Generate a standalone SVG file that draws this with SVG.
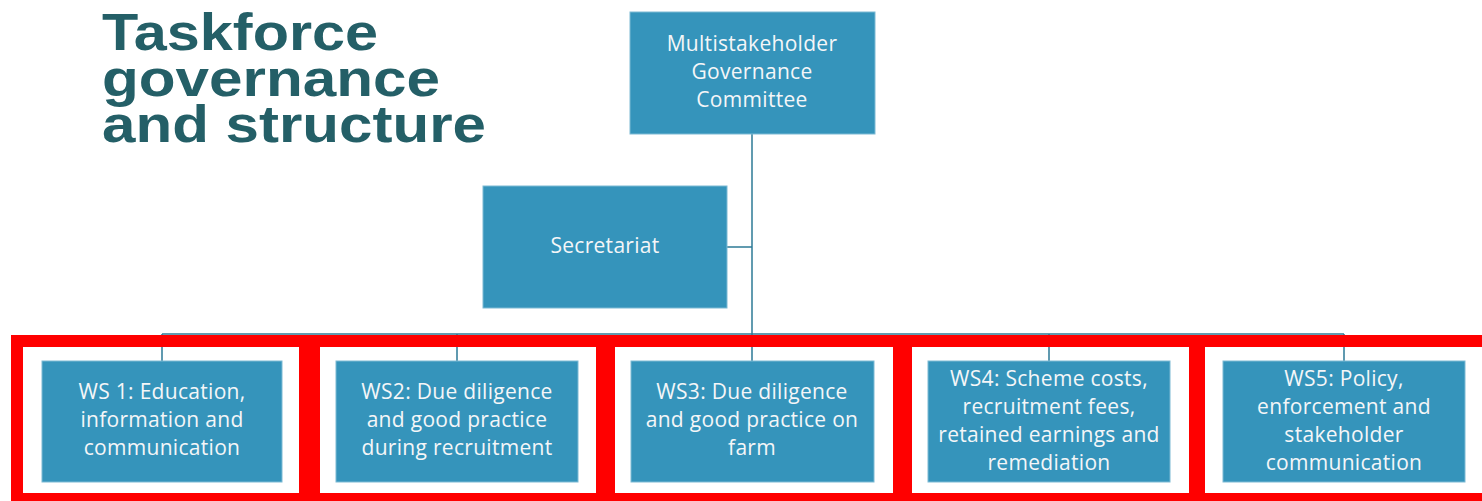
<svg xmlns="http://www.w3.org/2000/svg" width="1482" height="501" viewBox="0 0 1482 501">
<style>
.title{font-family:"Liberation Sans",Arial,sans-serif;font-weight:bold;font-size:52px;fill:#245F67}
.box{fill:#3594BB;stroke:#7DBAD4;stroke-width:1}
.lbl{font-family:"Open Sans","Liberation Sans",Arial,sans-serif;font-size:21px;letter-spacing:0.3px;fill:#F4F6F8;text-anchor:middle}
.conn{stroke:#2C7A96;stroke-width:1.5;fill:none}
.frame{fill:none;stroke:#FF0000;stroke-width:12}
</style>
<rect width="1482" height="501" fill="#FFFFFF"/>
<g id="title">
<text class="title"><tspan x="102" y="50" textLength="276" lengthAdjust="spacingAndGlyphs">Taskforce</tspan><tspan x="102" y="96" textLength="338" lengthAdjust="spacingAndGlyphs">governance</tspan><tspan x="102" y="142" textLength="384" lengthAdjust="spacingAndGlyphs">and structure</tspan></text>
</g>
<g id="connectors">
<path class="conn" d="M752,134 V334"/>
<path class="conn" d="M727,247 H752"/>
<path class="conn" d="M162,334 H1344"/>
<path class="conn" d="M162,334 V361 M457,334 V361 M752,334 V361 M1049,334 V361 M1344,334 V361"/>
</g>
<g id="committee">
<rect class="box" x="630" y="12" width="245" height="122"/>
<text class="lbl" x="752" y="51">Multistakeholder</text>
<text class="lbl" x="752" y="79">Governance</text>
<text class="lbl" x="752" y="107">Committee</text>
</g>
<g id="secretariat">
<rect class="box" x="483" y="186" width="244" height="122"/>
<text class="lbl" x="605" y="253">Secretariat</text>
</g>
<g id="ws1">
<rect class="box" x="42" y="361" width="240" height="121"/>
<text class="lbl" x="162" y="399">WS 1: Education,</text>
<text class="lbl" x="162" y="427">information and</text>
<text class="lbl" x="162" y="455">communication</text>
</g>
<g id="ws2">
<rect class="box" x="336" y="361" width="242" height="121"/>
<text class="lbl" x="457" y="399">WS2: Due diligence</text>
<text class="lbl" x="457" y="427">and good practice</text>
<text class="lbl" x="457" y="455">during recruitment</text>
</g>
<g id="ws3">
<rect class="box" x="631" y="361" width="243" height="121"/>
<text class="lbl" x="752" y="399">WS3: Due diligence</text>
<text class="lbl" x="752" y="427">and good practice on</text>
<text class="lbl" x="752" y="455">farm</text>
</g>
<g id="ws4">
<rect class="box" x="928" y="361" width="242" height="121"/>
<text class="lbl" x="1049" y="386">WS4: Scheme costs,</text>
<text class="lbl" x="1049" y="414">recruitment fees,</text>
<text class="lbl" x="1049" y="442">retained earnings and</text>
<text class="lbl" x="1049" y="470">remediation</text>
</g>
<g id="ws5">
<rect class="box" x="1223" y="361" width="242" height="121"/>
<text class="lbl" x="1344" y="386">WS5: Policy,</text>
<text class="lbl" x="1344" y="414">enforcement and</text>
<text class="lbl" x="1344" y="442">stakeholder</text>
<text class="lbl" x="1344" y="470">communication</text>
</g>
<g id="highlights">
<rect class="frame" x="17" y="341" width="288" height="158"/>
<rect class="frame" x="314" y="341" width="288" height="158"/>
<rect class="frame" x="609" y="341" width="290" height="158"/>
<rect class="frame" x="906" y="341" width="289" height="158"/>
<rect class="frame" x="1199" y="341" width="300" height="158"/>
</g>
</svg>
